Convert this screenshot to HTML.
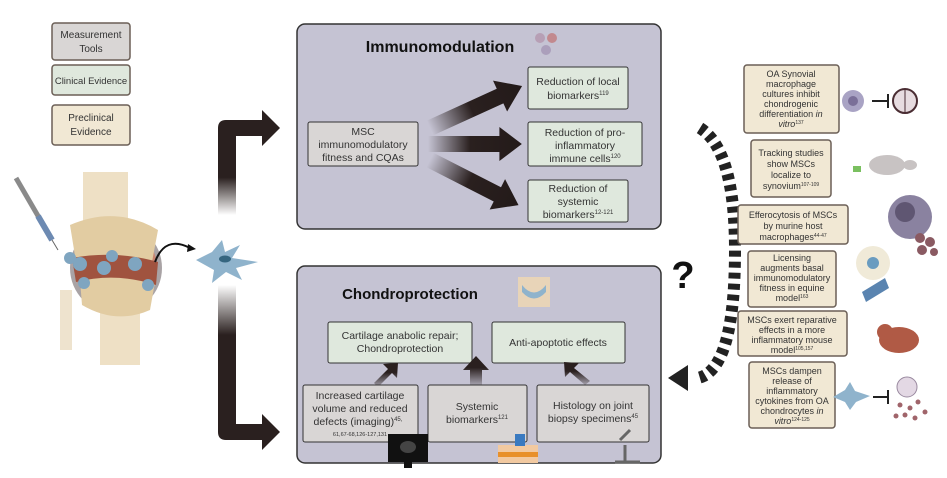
<!DOCTYPE html>
<html><head><meta charset="utf-8"><style>
body{margin:0;background:#fff;}
svg{display:block;font-family:"Liberation Sans",sans-serif;}
</style></head><body>
<svg width="947" height="478" viewBox="0 0 947 478" xmlns="http://www.w3.org/2000/svg">
<defs>
<linearGradient id="ga" x1="0" y1="0" x2="1" y2="0"><stop offset="0" stop-color="#2a201f" stop-opacity="0"/><stop offset="0.45" stop-color="#2a201f"/><stop offset="1" stop-color="#231a19"/></linearGradient>
<linearGradient id="gv1" x1="0" y1="1" x2="0" y2="0"><stop offset="0" stop-color="#2a201f" stop-opacity="0"/><stop offset="0.5" stop-color="#2a201f"/></linearGradient>
<linearGradient id="gv2" x1="0" y1="0" x2="0" y2="1"><stop offset="0" stop-color="#2a201f" stop-opacity="0"/><stop offset="0.5" stop-color="#2a201f"/></linearGradient>
<linearGradient id="gu" x1="0" y1="1" x2="0" y2="0"><stop offset="0" stop-color="#2a201f" stop-opacity="0.2"/><stop offset="0.6" stop-color="#2a201f"/></linearGradient>
<path id="harrow" d="M0 -8 L70 -8 L70 -17 L92 0 L70 17 L70 8 L0 8Z"/>
</defs>

<!-- legend -->
<rect x="52" y="23" width="78" height="37" rx="3" fill="#d9d6d5" stroke="#6b5f56" stroke-width="1.5"/>
<text x="91" y="38" font-size="10" text-anchor="middle" fill="#333">Measurement</text>
<text x="91" y="52" font-size="10" text-anchor="middle" fill="#333">Tools</text>
<rect x="52" y="65" width="78" height="30" rx="3" fill="#dfe8dd" stroke="#6b5f56" stroke-width="1.5"/>
<text x="91" y="84" font-size="9.5" text-anchor="middle" fill="#333">Clinical Evidence</text>
<rect x="52" y="105" width="78" height="40" rx="3" fill="#f1e8d4" stroke="#6b5f56" stroke-width="1.5"/>
<text x="91" y="121" font-size="10" text-anchor="middle" fill="#333">Preclinical</text>
<text x="91" y="135" font-size="10" text-anchor="middle" fill="#333">Evidence</text>

<!-- knee -->
<rect x="83" y="172" width="45" height="60" fill="#ead8b6" opacity="0.8"/>
<rect x="100" y="300" width="40" height="65" fill="#ead8b6" opacity="0.8"/>
<rect x="60" y="290" width="12" height="60" fill="#eee3ce"/>
<circle cx="116" cy="268" r="46" fill="#a9a3a5"/>
<circle cx="116" cy="268" r="41" fill="#c98470"/>
<path d="M70 225 Q116 205 158 230 L152 262 Q116 252 76 262Z" fill="#e2cca2"/>
<path d="M80 280 Q116 270 155 282 L150 310 Q116 325 82 305Z" fill="#e2cca2"/>
<path d="M72 258 Q116 250 158 262 L156 285 Q116 272 76 282Z" fill="#a0533f"/>
<g fill="#7fa5c0">
<circle cx="70" cy="258" r="6"/><circle cx="80" cy="264" r="7"/><circle cx="112" cy="256" r="6"/><circle cx="104" cy="268" r="7"/><circle cx="135" cy="264" r="7"/><circle cx="84" cy="283" r="6"/><circle cx="148" cy="285" r="6"/>
</g>
<!-- syringe -->
<line x1="16" y1="178" x2="52" y2="240" stroke="#8a8a8a" stroke-width="5"/>
<line x1="38" y1="216" x2="52" y2="240" stroke="#6d8ab2" stroke-width="6"/>
<line x1="52" y1="240" x2="58" y2="250" stroke="#666" stroke-width="1"/>
<path d="M155 262 Q165 235 190 248" fill="none" stroke="#111" stroke-width="2"/>
<path d="M188 244 L196 249 L187 252Z" fill="#111"/>
<!-- cell -->
<path d="M196 260 L212 252 L222 240 L225 252 L240 245 L232 258 L258 262 L236 268 L242 280 L226 272 L212 283 L214 270Z" fill="#8fb3cc"/>
<ellipse cx="225" cy="259" rx="6" ry="3.5" fill="#35657f"/>

<!-- big arrows left -->
<rect x="218" y="140" width="18" height="75" fill="url(#gv1)"/>
<path d="M218 145 L218 128 Q218 120 226 120 L262 120 L262 110 L280 128 L262 146 L262 136 L236 136 L236 145Z" fill="#2a201f"/>
<rect x="218" y="285" width="18" height="100" fill="url(#gv2)"/>
<path d="M218 380 L218 432 Q218 440 226 440 L262 440 L262 450 L280 432 L262 414 L262 424 L236 424 L236 380Z" fill="#2a201f"/>

<!-- immunomodulation panel -->
<rect x="297" y="24" width="364" height="205" rx="8" fill="#c5c3d3" stroke="#333" stroke-width="1.5"/>
<text x="440" y="52" font-size="16" font-weight="bold" text-anchor="middle" fill="#111">Immunomodulation</text>
<circle cx="540" cy="38" r="5" fill="#b090a8" opacity="0.7"/><circle cx="552" cy="38" r="5" fill="#c07070" opacity="0.7"/><circle cx="546" cy="50" r="5" fill="#a090b0" opacity="0.7"/>
<rect x="308" y="122" width="110" height="44" rx="2" fill="#d9d6d5" stroke="#333"/>
<text x="363" y="135" font-size="10.5" text-anchor="middle" fill="#333">MSC</text>
<text x="363" y="148" font-size="10.5" text-anchor="middle" fill="#333">immunomodulatory</text>
<text x="363" y="161" font-size="10.5" text-anchor="middle" fill="#333">fitness and CQAs</text>
<!-- three arrows -->
<use href="#harrow" fill="url(#ga)" transform="translate(430,128) rotate(-24.5) scale(1.1,1)"/>
<use href="#harrow" fill="url(#ga)" transform="translate(428,144) scale(1.02,1)"/>
<use href="#harrow" fill="url(#ga)" transform="translate(430,160) rotate(27) scale(1.08,1)"/>
<rect x="528" y="67" width="100" height="42" rx="2" fill="#dfe8dd" stroke="#333"/>
<text x="578" y="85" font-size="10.5" text-anchor="middle" fill="#333">Reduction of local</text>
<text x="578" y="99" font-size="10.5" text-anchor="middle" fill="#333">biomarkers<tspan font-size="6" dy="-4">119</tspan></text>
<rect x="528" y="122" width="114" height="44" rx="2" fill="#dfe8dd" stroke="#333"/>
<text x="585" y="136" font-size="10.5" text-anchor="middle" fill="#333">Reduction of pro-</text>
<text x="585" y="149" font-size="10.5" text-anchor="middle" fill="#333">inflammatory</text>
<text x="585" y="162" font-size="10.5" text-anchor="middle" fill="#333">immune cells<tspan font-size="6" dy="-4">120</tspan></text>
<rect x="528" y="180" width="100" height="42" rx="2" fill="#dfe8dd" stroke="#333"/>
<text x="578" y="192" font-size="10.5" text-anchor="middle" fill="#333">Reduction of</text>
<text x="578" y="205" font-size="10.5" text-anchor="middle" fill="#333">systemic</text>
<text x="578" y="218" font-size="10.5" text-anchor="middle" fill="#333">biomarkers<tspan font-size="6" dy="-4">12-121</tspan></text>

<!-- chondroprotection panel -->
<rect x="297" y="266" width="364" height="197" rx="8" fill="#c5c3d3" stroke="#333" stroke-width="1.5"/>
<text x="410" y="299" font-size="15" font-weight="bold" text-anchor="middle" fill="#111">Chondroprotection</text>
<rect x="518" y="277" width="32" height="30" fill="#e8d4b8"/><path d="M522 285 Q534 300 546 285 L546 292 Q534 305 522 292Z" fill="#8fb3cc"/>
<rect x="328" y="322" width="144" height="41" rx="2" fill="#dfe8dd" stroke="#333"/>
<text x="400" y="339" font-size="10.5" text-anchor="middle" fill="#333">Cartilage anabolic repair;</text>
<text x="400" y="352" font-size="10.5" text-anchor="middle" fill="#333">Chondroprotection</text>
<rect x="492" y="322" width="133" height="41" rx="2" fill="#dfe8dd" stroke="#333"/>
<text x="558" y="346" font-size="10.5" text-anchor="middle" fill="#333">Anti-apoptotic effects</text>
<!-- up arrows -->
<path d="M374 383 L388 369 L383 364 L398 363 L397 378 L392 373 L378 387Z" fill="url(#gu)"/>
<path d="M470 385 L470 370 L463 370 L476 356 L489 370 L482 370 L482 385Z" fill="url(#gu)"/>
<path d="M585 385 L570 372 L565 377 L564 362 L579 363 L574 368 L590 381Z" fill="url(#gu)"/>
<rect x="303" y="385" width="115" height="57" rx="2" fill="#d9d6d5" stroke="#333"/>
<text x="360" y="399" font-size="10.5" text-anchor="middle" fill="#333">Increased cartilage</text>
<text x="360" y="412" font-size="10.5" text-anchor="middle" fill="#333">volume and reduced</text>
<text x="358" y="425" font-size="10.5" text-anchor="middle" fill="#333">defects (imaging)<tspan font-size="6" dy="-4">45,</tspan></text>
<text x="360" y="436" font-size="5.5" text-anchor="middle" fill="#333">61,67-68,126-127,131</text>
<rect x="428" y="385" width="99" height="57" rx="2" fill="#d9d6d5" stroke="#333"/>
<text x="477" y="410" font-size="10.5" text-anchor="middle" fill="#333">Systemic</text>
<text x="477" y="423" font-size="10.5" text-anchor="middle" fill="#333">biomarkers<tspan font-size="6" dy="-4">121</tspan></text>
<rect x="537" y="385" width="112" height="57" rx="2" fill="#d9d6d5" stroke="#333"/>
<text x="593" y="409" font-size="10.5" text-anchor="middle" fill="#333">Histology on joint</text>
<text x="593" y="422" font-size="10.5" text-anchor="middle" fill="#333">biopsy specimens<tspan font-size="6" dy="-4">45</tspan></text>
<rect x="388" y="434" width="40" height="28" fill="#111"/><ellipse cx="408" cy="447" rx="8" ry="6" fill="#444"/><rect x="404" y="462" width="8" height="6" fill="#111"/>
<rect x="498" y="445" width="40" height="18" fill="#f2c9a0"/><rect x="498" y="452" width="40" height="5" fill="#e8902a"/><rect x="515" y="434" width="10" height="12" fill="#3a7ac0"/>
<path d="M620 440 L630 430 M615 462 L640 462 M625 445 L625 462" stroke="#666" stroke-width="3"/>

<!-- dashed arc and ? -->
<path d="M700 128 Q735 150 735 250 Q735 370 698 378" fill="none" stroke="#222" stroke-width="12" stroke-dasharray="6 5"/>
<path d="M688 365 L668 378 L688 391Z" fill="#222"/>
<text x="683" y="288" font-size="38" font-weight="bold" text-anchor="middle" fill="#111">?</text>

<!-- right evidence boxes -->
<g font-size="9" fill="#333" text-anchor="middle">
<rect x="744" y="65" width="95" height="68" rx="3" fill="#f1e8d4" stroke="#6b5f56" stroke-width="1.5"/>
<text x="791" y="77">OA Synovial</text><text x="791" y="87">macrophage</text><text x="791" y="97">cultures inhibit</text><text x="791" y="107">chondrogenic</text><text x="791" y="117">differentiation <tspan font-style="italic">in</tspan></text><text x="791" y="127"><tspan font-style="italic">vitro</tspan><tspan font-size="5" dy="-3">137</tspan></text>
<rect x="751" y="140" width="80" height="57" rx="3" fill="#f1e8d4" stroke="#6b5f56" stroke-width="1.5"/>
<text x="791" y="156">Tracking studies</text><text x="791" y="167">show MSCs</text><text x="791" y="178">localize to</text><text x="791" y="189">synovium<tspan font-size="5" dy="-3">107-109</tspan></text>
<rect x="738" y="205" width="110" height="39" rx="3" fill="#f1e8d4" stroke="#6b5f56" stroke-width="1.5"/>
<text x="793" y="218">Efferocytosis of MSCs</text><text x="793" y="229">by murine host</text><text x="793" y="240">macrophages<tspan font-size="5" dy="-3">44-47</tspan></text>
<rect x="748" y="251" width="88" height="56" rx="3" fill="#f1e8d4" stroke="#6b5f56" stroke-width="1.5"/>
<text x="792" y="261">Licensing</text><text x="792" y="271">augments basal</text><text x="792" y="281">immunomodulatory</text><text x="792" y="291">fitness in equine</text><text x="792" y="301">model<tspan font-size="5" dy="-3">163</tspan></text>
<rect x="738" y="311" width="109" height="45" rx="3" fill="#f1e8d4" stroke="#6b5f56" stroke-width="1.5"/>
<text x="792" y="323">MSCs exert reparative</text><text x="792" y="333">effects in a more</text><text x="792" y="343">inflammatory mouse</text><text x="792" y="353">model<tspan font-size="5" dy="-3">105,157</tspan></text>
<rect x="749" y="362" width="86" height="66" rx="3" fill="#f1e8d4" stroke="#6b5f56" stroke-width="1.5"/>
<text x="792" y="374">MSCs dampen</text><text x="792" y="384">release of</text><text x="792" y="394">inflammatory</text><text x="792" y="404">cytokines from OA</text><text x="792" y="414">chondrocytes <tspan font-style="italic">in</tspan></text><text x="792" y="424"><tspan font-style="italic">vitro</tspan><tspan font-size="5" dy="-3">124-125</tspan></text>
</g>
<!-- right icons -->
<circle cx="853" cy="101" r="11" fill="#a9a3c4"/><circle cx="853" cy="101" r="5" fill="#7a6f98"/>
<path d="M872 101 L888 101 M888 94 L888 108" stroke="#222" stroke-width="2"/>
<circle cx="905" cy="101" r="12" fill="#e7dce0" stroke="#4a2d33" stroke-width="2"/><line x1="905" y1="89" x2="905" y2="113" stroke="#4a2d33"/>
<ellipse cx="887" cy="165" rx="18" ry="10" fill="#c8c3c3"/><ellipse cx="910" cy="165" rx="7" ry="5" fill="#c8c3c3"/><rect x="853" y="166" width="8" height="6" fill="#7ac060"/>
<circle cx="910" cy="217" r="22" fill="#8a82a0"/><circle cx="905" cy="212" r="10" fill="#5f5672"/>
<g fill="#8a5a62"><circle cx="920" cy="238" r="5"/><circle cx="930" cy="242" r="5"/><circle cx="922" cy="250" r="5"/><circle cx="934" cy="252" r="4"/></g>
<circle cx="873" cy="263" r="17" fill="#f0ead8"/><circle cx="873" cy="263" r="6" fill="#6a9cc0"/>
<path d="M862 292 L885 278 L889 288 L866 302Z" fill="#5a84b0"/>
<ellipse cx="899" cy="340" rx="20" ry="13" fill="#b05a45"/><circle cx="885" cy="332" r="8" fill="#b05a45"/>
<path d="M833 397 L845 390 L850 382 L855 391 L870 396 L856 402 L850 410 L845 402Z" fill="#8fb3cc"/>
<path d="M873 397 L888 397 M888 390 L888 404" stroke="#222" stroke-width="2"/>
<circle cx="907" cy="387" r="10" fill="#e3d8e4" stroke="#9a8aa0"/>
<g fill="#a0646a"><circle cx="900" cy="405" r="2.5"/><circle cx="910" cy="408" r="2.5"/><circle cx="918" cy="402" r="2.5"/><circle cx="905" cy="415" r="2.5"/><circle cx="915" cy="418" r="2.5"/><circle cx="925" cy="412" r="2.5"/><circle cx="896" cy="416" r="2.5"/></g>
</svg>
</body></html>
